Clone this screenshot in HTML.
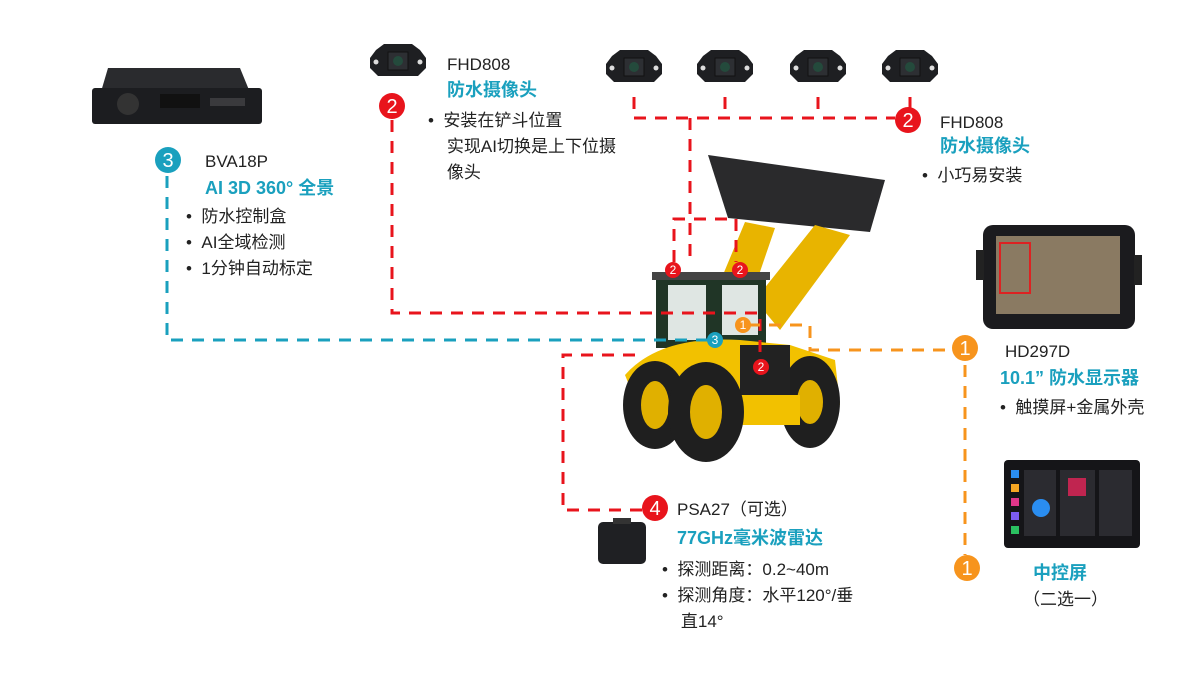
<!DOCTYPE html>
<html><head><meta charset="utf-8"><style>
body{margin:0;background:#fff;width:1200px;height:700px;overflow:hidden;position:relative;font-family:"Liberation Sans","Noto Sans CJK SC",sans-serif;}
.t{position:absolute;font-size:17px;color:#222;line-height:26px;white-space:nowrap}
.b{color:#1aa0be;font-weight:bold;font-size:18px}
svg{position:absolute;left:0;top:0}
</style></head><body>
<svg width="1200" height="700">
<defs>
<g id="cam"><path d="M-22,-12 L-14,-18 L14,-18 L22,-12 L28,-4 L28,6 L20,14 L-20,14 L-28,6 L-28,-4 Z" fill="#1e1f22"/><rect x="-10" y="-10" width="20" height="18" fill="#2d2f33" stroke="#111"/><circle cx="0" cy="-1" r="5" fill="#244a3c"/><circle cx="-22" cy="0" r="2.5" fill="#ddd"/><circle cx="22" cy="0" r="2.5" fill="#ddd"/></g>
</defs>
<!-- loader (behind lines) -->
<path d="M708 155 L885 180 L870 232 L728 218 Z" fill="#2a2a2c"/>
<path d="M700 330 L745 222 L775 228 L740 330 Z" fill="#e8b400"/>
<path d="M755 300 L815 225 L850 235 L780 330 Z" fill="#e8b400"/>
<rect x="656" y="278" width="110" height="70" fill="#203526"/>
<rect x="652" y="272" width="118" height="8" fill="#444"/>
<rect x="668" y="285" width="38" height="55" fill="#dfe6e3"/>
<rect x="722" y="285" width="36" height="50" fill="#dfe6e3"/>
<path d="M625 375 Q660 335 740 340 L790 345 L835 360 L840 405 L640 412 Z" fill="#f2c100"/>
<ellipse cx="655" cy="405" rx="32" ry="44" fill="#1f1f1f"/><ellipse cx="655" cy="405" rx="14" ry="24" fill="#e0b000"/>
<ellipse cx="810" cy="402" rx="30" ry="46" fill="#1f1f1f"/><ellipse cx="810" cy="402" rx="13" ry="22" fill="#e0b000"/>
<rect x="740" y="345" width="50" height="55" fill="#222"/>
<rect x="720" y="395" width="80" height="30" fill="#f2c100"/>
<ellipse cx="706" cy="412" rx="38" ry="50" fill="#1f1f1f"/><ellipse cx="706" cy="412" rx="16" ry="27" fill="#e0b000"/>
<g fill="none" stroke-width="3" stroke-dasharray="12,9">
<path d="M167 176 V340 H712" stroke="#1aa0be"/>
<path d="M392 120 V313 H760 V352" stroke="#e8141c"/>
<path d="M634 97 V118 H895 M725 97V118 M818 97V118 M910 97V108 M690 118 V262 M674 262 V219 H736 V262" stroke="#e8141c"/>
<path d="M635 355 H563 V510 H643" stroke="#e8141c"/>
<path d="M748 325 H810 V350 H950 M965 365 V555" stroke="#f7941d"/>
</g>
<!-- DVR box -->
<path d="M108 68 L240 68 L258 112 L95 112 Z" fill="#2a2b2e"/><rect x="92" y="88" width="170" height="36" rx="3" fill="#1c1d20"/><circle cx="128" cy="104" r="11" fill="#333"/><rect x="160" y="94" width="40" height="14" fill="#111"/><rect x="210" y="98" width="35" height="8" fill="#3a3a3d"/>
<use href="#cam" x="398" y="62"/>
<use href="#cam" x="634" y="68"/><use href="#cam" x="725" y="68"/><use href="#cam" x="818" y="68"/><use href="#cam" x="910" y="68"/>
<!-- monitor -->
<rect x="983" y="225" width="152" height="104" rx="10" fill="#1b1b1e"/><rect x="996" y="236" width="124" height="78" fill="#8a7a62"/><rect x="1000" y="243" width="30" height="50" fill="none" stroke="#d22" stroke-width="2"/><rect x="976" y="250" width="8" height="30" fill="#222"/><rect x="1134" y="255" width="8" height="30" fill="#222"/>
<!-- control screen -->
<rect x="1004" y="460" width="136" height="88" rx="4" fill="#151518"/><rect x="1024" y="470" width="32" height="66" fill="#2b2b30"/><rect x="1060" y="470" width="35" height="66" fill="#2b2b30"/><rect x="1099" y="470" width="33" height="66" fill="#2b2b30"/><circle cx="1041" cy="508" r="9" fill="#2a8df0"/><rect x="1068" y="478" width="18" height="18" fill="#c02550"/>
<rect x="1011" y="470" width="8" height="8" fill="#2a8df0"/><rect x="1011" y="484" width="8" height="8" fill="#f5a623"/><rect x="1011" y="498" width="8" height="8" fill="#e0368a"/><rect x="1011" y="512" width="8" height="8" fill="#7b5cf0"/><rect x="1011" y="526" width="8" height="8" fill="#2ac060"/>
<!-- radar -->
<rect x="598" y="522" width="48" height="42" rx="5" fill="#1f2023"/><rect x="613" y="518" width="18" height="6" fill="#333"/>
<!-- badges -->
<g font-family="Liberation Sans" font-size="20" fill="#fff" text-anchor="middle">
<circle cx="168" cy="160" r="13" fill="#1aa0be"/><text x="168" y="167">3</text>
<circle cx="392" cy="106" r="13" fill="#e8141c"/><text x="392" y="113">2</text>
<circle cx="908" cy="120" r="13" fill="#e8141c"/><text x="908" y="127">2</text>
<circle cx="965" cy="348" r="13" fill="#f7941d"/><text x="965" y="355">1</text>
<circle cx="967" cy="568" r="13" fill="#f7941d"/><text x="967" y="575">1</text>
<circle cx="655" cy="508" r="13" fill="#e8141c"/><text x="655" y="515">4</text>
</g>
<g font-family="Liberation Sans" font-size="12" fill="#fff" text-anchor="middle">
<circle cx="673" cy="270" r="8" fill="#e8141c"/><text x="673" y="274">2</text>
<circle cx="740" cy="270" r="8" fill="#e8141c"/><text x="740" y="274">2</text>
<circle cx="743" cy="325" r="8" fill="#f7941d"/><text x="743" y="329">1</text>
<circle cx="715" cy="340" r="8" fill="#1aa0be"/><text x="715" y="344">3</text>
<circle cx="761" cy="367" r="8" fill="#e8141c"/><text x="761" y="371">2</text>
</g>
</svg>
<div class="t" style="left:205px;top:149px">BVA18P</div>
<div class="t b" style="left:205px;top:175px">AI 3D 360° 全景</div>
<div class="t" style="left:186px;top:204px">•&nbsp; 防水控制盒<br>•&nbsp; AI全域检测<br>•&nbsp; 1分钟自动标定</div>
<div class="t" style="left:447px;top:52px">FHD808</div>
<div class="t b" style="left:447px;top:77px">防水摄像头</div>
<div class="t" style="left:428px;top:108px">•&nbsp; 安装在铲斗位置<br>&nbsp;&nbsp;&nbsp; 实现AI切换是上下位摄<br>&nbsp;&nbsp;&nbsp; 像头</div>
<div class="t" style="left:940px;top:110px">FHD808</div>
<div class="t b" style="left:940px;top:133px">防水摄像头</div>
<div class="t" style="left:922px;top:163px">•&nbsp; 小巧易安装</div>
<div class="t" style="left:1005px;top:339px">HD297D</div>
<div class="t b" style="left:1000px;top:365px">10.1” 防水显示器</div>
<div class="t" style="left:1000px;top:395px">•&nbsp; 触摸屏+金属外壳</div>
<div class="t b" style="left:1033px;top:560px">中控屏</div>
<div class="t" style="left:1023px;top:587px">（二选一）</div>
<div class="t" style="left:677px;top:497px">PSA27（可选）</div>
<div class="t b" style="left:677px;top:525px">77GHz毫米波雷达</div>
<div class="t" style="left:662px;top:557px">•&nbsp; 探测距离：0.2~40m<br>•&nbsp; 探测角度：水平120°/垂<br>&nbsp;&nbsp;&nbsp; 直14°</div>
</body></html>
